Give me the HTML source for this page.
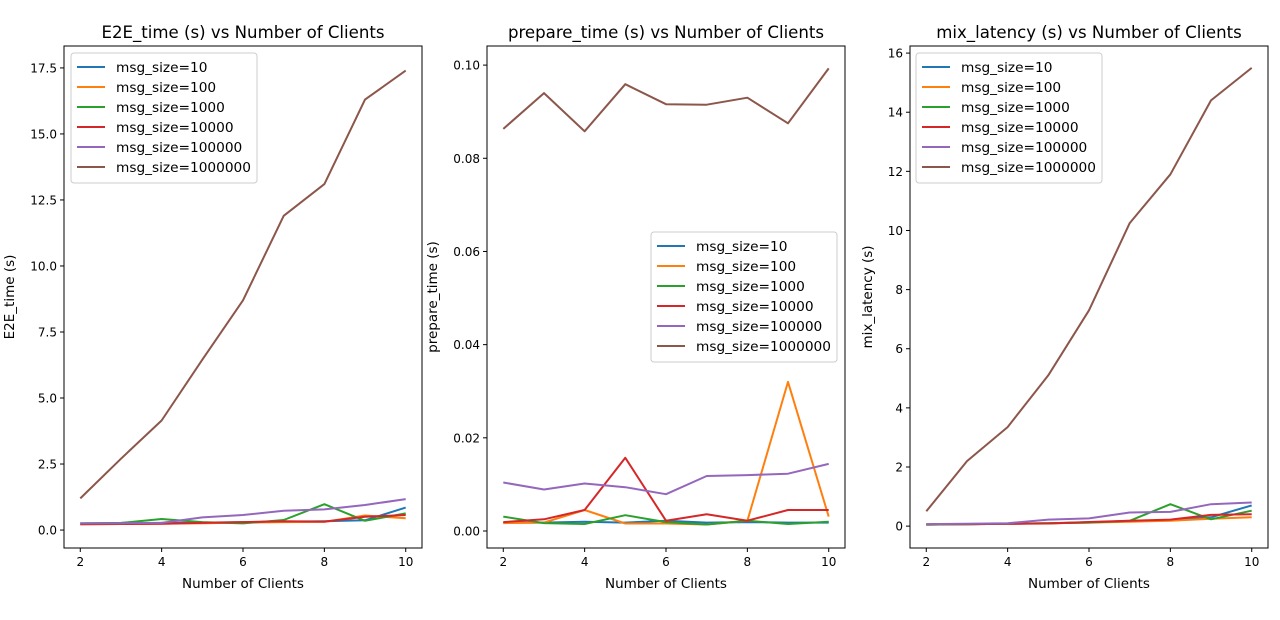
<!DOCTYPE html>
<html><head><meta charset="utf-8"><style>
body{margin:0;background:#fff;}
svg{display:block;font-family:"DejaVu Sans","Liberation Sans",sans-serif;}
</style></head><body>
<svg id="fig" width="1280" height="620" viewBox="0 0 1280 620"></svg>
<script>
const clients=[2,3,4,5,6,7,8,9,10];
const seriesNames=["msg_size=10","msg_size=100","msg_size=1000","msg_size=10000","msg_size=100000","msg_size=1000000"];
const colors=["#1f77b4","#ff7f0e","#2ca02c","#d62728","#9467bd","#8c564b"];
const e2e10=[0.25,0.26,0.27,0.28,0.3,0.32,0.33,0.37,0.85];
const e2e100=[0.22,0.23,0.24,0.26,0.28,0.3,0.31,0.55,0.45];
const e2e1000=[0.25,0.27,0.42,0.3,0.25,0.38,0.98,0.35,0.63];
const e2e10000=[0.22,0.23,0.24,0.27,0.3,0.33,0.32,0.5,0.57];
const e2e100000=[0.25,0.26,0.27,0.48,0.57,0.73,0.78,0.95,1.17];
const e2e1000000=[1.2,2.7,4.15,6.45,8.7,11.9,13.1,16.3,17.4];
const prep10=[0.0018,0.0018,0.002,0.0018,0.0022,0.0018,0.0019,0.0018,0.0018];
const prep100=[0.0017,0.0018,0.0045,0.0016,0.0016,0.0014,0.0022,0.032,0.0031];
const prep1000=[0.0031,0.0017,0.0015,0.0034,0.0019,0.0014,0.0022,0.0015,0.002];
const prep10000=[0.0019,0.0025,0.0045,0.0157,0.0022,0.0036,0.0022,0.0045,0.0045];
const prep100000=[0.0104,0.0089,0.0102,0.0094,0.0079,0.0118,0.012,0.0123,0.0144];
const prep1000000=[0.0863,0.094,0.0858,0.0959,0.0916,0.0915,0.093,0.0875,0.0993];
const mix10=[0.05,0.06,0.08,0.1,0.13,0.17,0.2,0.3,0.7];
const mix100=[0.05,0.06,0.08,0.1,0.12,0.15,0.18,0.25,0.3];
const mix1000=[0.05,0.06,0.08,0.1,0.12,0.18,0.74,0.23,0.52];
const mix10000=[0.06,0.07,0.08,0.09,0.14,0.18,0.22,0.38,0.4];
const mix100000=[0.07,0.08,0.1,0.22,0.26,0.46,0.48,0.74,0.8];
const mix1000000=[0.5,2.2,3.35,5.1,7.3,10.25,11.9,14.4,15.5];
const xTicks=[2,4,6,8,10];
const e2eTicks=[0,2.5,5,7.5,10,12.5,15,17.5];
const e2eTickLabels=["0.0","2.5","5.0","7.5","10.0","12.5","15.0","17.5"];
const prepTicks=[0,0.02,0.04,0.06,0.08,0.1];
const prepTickLabels=["0.00","0.02","0.04","0.06","0.08","0.10"];
const mixTicks=[0,2,4,6,8,10,12,14,16];
const mixTickLabels=["0","2","4","6","8","10","12","14","16"];

const NS="http://www.w3.org/2000/svg";
const svg=document.getElementById('fig');
function mk(tag,attrs,parent,text){const e=document.createElementNS(NS,tag);for(const k in attrs)e.setAttribute(k,attrs[k]);if(text!==undefined)e.textContent=text;(parent||svg).appendChild(e);return e;}

const panels=[
 {name:"e2e",left:64,right:422,ylo:-0.68,yhi:18.33,data:[e2e10,e2e100,e2e1000,e2e10000,e2e100000,e2e1000000],ticks:e2eTicks,labels:e2eTickLabels,title:"E2E_time (s) vs Number of Clients",ylabel:"E2E_time (s)",legX:71,legY:53,ylabX:14},
 {name:"prepare",left:487,right:845,ylo:-0.00365,yhi:0.1041,data:[prep10,prep100,prep1000,prep10000,prep100000,prep1000000],ticks:prepTicks,labels:prepTickLabels,title:"prepare_time (s) vs Number of Clients",ylabel:"prepare_time (s)",legX:651,legY:232,ylabX:437},
 {name:"mix",left:910,right:1268,ylo:-0.74,yhi:16.24,data:[mix10,mix100,mix1000,mix10000,mix100000,mix1000000],ticks:mixTicks,labels:mixTickLabels,title:"mix_latency (s) vs Number of Clients",ylabel:"mix_latency (s)",legX:916,legY:53,ylabX:872}
];
const axTop=46,axBottom=548,xlo=1.6,xhi=10.4;
panels.forEach(p=>{
 const g=mk('g',{});
 
 
 const X=v=>p.left+(v-xlo)/(xhi-xlo)*(p.right-p.left);
 const Y=v=>axBottom-(v-p.ylo)/(p.yhi-p.ylo)*(axBottom-axTop);
 p.data.forEach((arr,i)=>{
  const pts=arr.map((v,j)=>X(clients[j]).toFixed(1)+','+Y(v).toFixed(1)).join(' ');
  const l=mk('polyline',{points:pts,fill:'none',stroke:colors[i],'stroke-width':2,'stroke-linejoin':'round'},g);
  
  
 });
 const fr=mk('rect',{x:p.left,y:axTop,width:p.right-p.left,height:axBottom-axTop,fill:'none',stroke:'#000','stroke-width':1},g);
 
 
 xTicks.forEach(t=>{const x=X(t);mk('line',{x1:x,x2:x,y1:axBottom,y2:axBottom+4,stroke:'#000'},g);
  const tx=mk('text',{x:x,y:axBottom+18,'font-size':12,'text-anchor':'middle'},g,String(t));
  
  });
 p.ticks.forEach((t,i)=>{const y=Y(t);mk('line',{x1:p.left-4,x2:p.left,y1:y,y2:y,stroke:'#000'},g);
  const tx=mk('text',{x:p.left-7,y:y+4.5,'font-size':12,'text-anchor':'end'},g,p.labels[i]);
  
  });
 const tt=mk('text',{x:(p.left+p.right)/2,y:38,'font-size':16.6,'text-anchor':'middle'},g,p.title);
 
 
 const xl=mk('text',{x:(p.left+p.right)/2,y:588,'font-size':13.5,'text-anchor':'middle'},g,'Number of Clients');
 
 
 const yl=mk('text',{x:p.ylabX,y:(axTop+axBottom)/2,'font-size':13.5,'text-anchor':'middle',transform:`rotate(-90 ${p.ylabX} ${(axTop+axBottom)/2})`},g,p.ylabel);
 
 
 const lg=mk('g',{},g);
 
 
 mk('rect',{x:p.legX,y:p.legY,width:186,height:130,rx:3,fill:'#fff','fill-opacity':0.8,stroke:'#ccc'},lg);
 seriesNames.forEach((n,i)=>{const y=p.legY+14+i*20;
  mk('line',{x1:p.legX+6,x2:p.legX+34,y1:y,y2:y,stroke:colors[i],'stroke-width':2},lg);
  const t=mk('text',{x:p.legX+45,y:y+5,'font-size':13.7},lg,n);
  
  });
});
</script>
</body></html>
